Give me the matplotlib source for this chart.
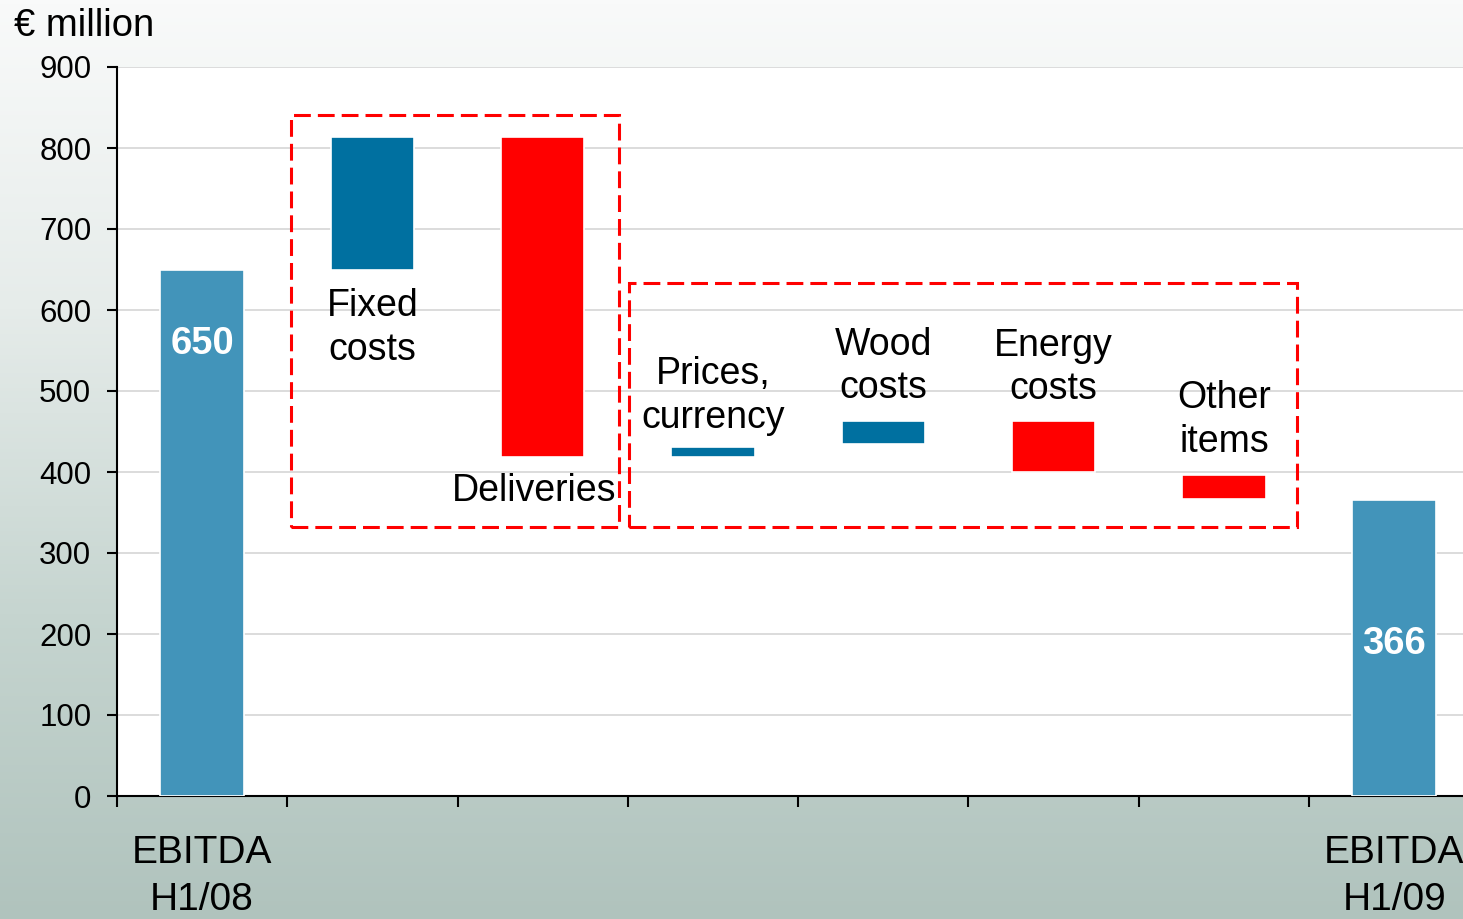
import numpy as np
import matplotlib
matplotlib.use("Agg")
import matplotlib.pyplot as plt
from matplotlib.patches import Rectangle
from matplotlib.colors import LinearSegmentedColormap

plt.rcParams['font.family'] = ['Liberation Sans', 'DejaVu Sans']

# EBITDA bridge H1/08 -> H1/09, € million
categories = ["EBITDA\nH1/08", "Fixed\ncosts", "Deliveries", "Prices,\ncurrency",
              "Wood\ncosts", "Energy\ncosts", "Other\nitems", "EBITDA\nH1/09"]
bar_bottom = [0, 650, 419, 419, 434, 400, 367, 0]
bar_top = [650, 814, 814, 431, 463, 463, 396, 366]
bar_kind = ["total", "up", "down", "up", "up", "down", "down", "total"]
total_labels = {0: "650", 7: "366"}

kind_color = {"total": "#4294ba", "up": "#0070a0", "down": "#ff0000"}

W, H = 1463, 919
fig = plt.figure(figsize=(W / 100, H / 100), dpi=100)

# background: vertical fade from almost white down to grey-green
bg = fig.add_axes([0, 0, 1, 1], zorder=-10)
grad = LinearSegmentedColormap.from_list("bg", ["#f9fafa", "#e6ecea", "#c6d5d0", "#b0c3bd"])
bg.imshow(np.linspace(0, 1, 256).reshape(-1, 1), aspect="auto", cmap=grad,
          extent=[0, 1, 0, 1], origin="upper")
bg.set_axis_off()

x0, x_step = 117, 170.29
y_bot, y_top = 796, 67
ax = fig.add_axes([x0 / W, (H - y_bot) / H, 8 * x_step / W, (y_bot - y_top) / H])
ax.set_facecolor("white")

x = np.arange(len(categories))
heights = [t - b for t, b in zip(bar_top, bar_bottom)]
colors = [kind_color[k] for k in bar_kind]
ax.bar(x, heights, bottom=bar_bottom, width=0.49, color=colors,
       edgecolor="white", linewidth=1.2, zorder=3)

ax.set_xlim(-0.5, 7.5)
ax.set_ylim(0, 900)
ax.set_yticks(np.arange(0, 901, 100))
ax.yaxis.grid(True, color="#d2d2d2", linewidth=1.1, zorder=0)
ax.set_axisbelow(True)

for side in ["top", "right"]:
    ax.spines[side].set_visible(False)
for side in ["left", "bottom"]:
    ax.spines[side].set_linewidth(1.5)
    ax.spines[side].set_color("black")

ax.tick_params(axis="y", direction="out", length=7.5, width=1.5, pad=11,
               labelsize=22.5, colors="black")
ax.set_xticks(x)
ax.set_xticklabels([c if bar_kind[i] == "total" else "" for i, c in enumerate(categories)],
                   linespacing=1.38)
ax.tick_params(axis="x", which="major", length=0, pad=28, labelsize=28)
ax.set_xticks(np.arange(-0.5, 8, 1), minor=True)
ax.tick_params(axis="x", which="minor", direction="out", length=8, width=1.5)

# value labels inside the total bars
label_y = {0: 558, 7: 188}
for i, txt in total_labels.items():
    ax.text(x[i], label_y[i], txt, color="white", fontsize=27.5, fontweight="bold",
            ha="center", va="center", zorder=5)

# category labels next to the bridge steps
fs = 27
ax.text(x[1], bar_bottom[1] - 72, categories[1], ha="center", va="center",
        fontsize=fs, linespacing=1.27, zorder=5)
ax.text(x[2] - 0.05, bar_bottom[2] - 42, categories[2], ha="center", va="center",
        fontsize=fs, zorder=5)
label_gap = {3: 63, 4: 67, 5: 66, 6: 68}
for i, gap in label_gap.items():
    ax.text(x[i], bar_top[i] + gap, categories[i], ha="center", va="center",
            fontsize=fs, linespacing=1.27, zorder=5)

# dashed frames grouping the drivers
frames = [(0.522, 332.5, 2.448, 840.7), (2.505, 332.0, 6.428, 633.3)]
for xa, ya, xb, yb in frames:
    ax.add_patch(Rectangle((xa, ya), xb - xa, yb - ya, fill=False,
                           edgecolor="#ff0000", linewidth=2.2,
                           linestyle=(0, (5.5, 2.3)), zorder=4, clip_on=False))

fig.text(14 / W, 1 - 26 / H, "€ million", fontsize=27.5, ha="left", va="center")

fig.savefig("out.png", dpi=100)
